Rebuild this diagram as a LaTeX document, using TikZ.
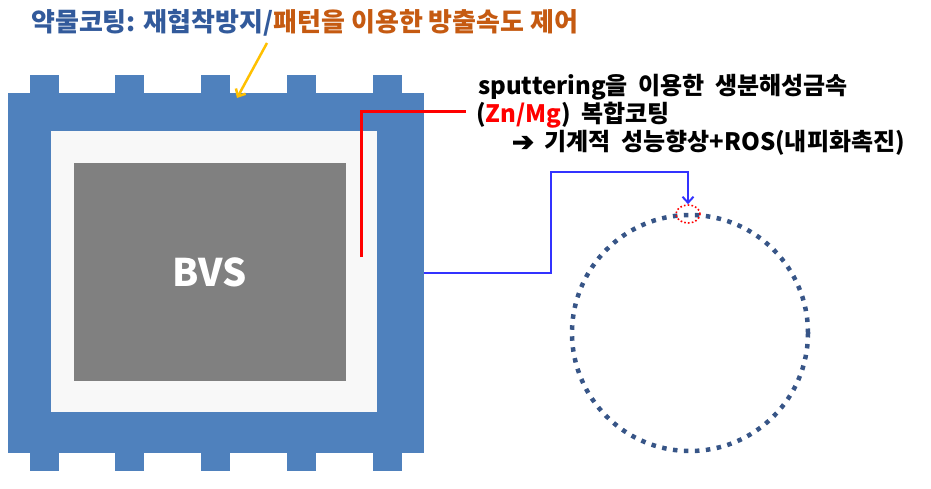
\documentclass[tikz,border=0pt]{standalone}
\usepackage{fontspec}
\setmainfont{Noto Sans CJK KR}
\newfontfamily\symfont{DejaVu Sans}[FakeBold=3.5]
\usetikzlibrary{arrows.meta,shapes.geometric}
\definecolor{stentblue}{RGB}{79,129,189}
\definecolor{lightfill}{RGB}{248,248,248}
\definecolor{bvsgray}{RGB}{128,128,128}
\definecolor{titleblue}{RGB}{50,90,155}
\definecolor{titleorange}{RGB}{197,90,17}
\definecolor{arrowyellow}{RGB}{255,192,0}
\definecolor{linkblue}{RGB}{51,51,255}
\definecolor{dotblue}{RGB}{55,85,135}
\definecolor{zncol}{RGB}{255,0,0}
\newcommand{\widespace}{\spaceskip=10.5pt\relax}
\tikzset{
  txt/.style={inner sep=0pt, anchor=west, font=\bfseries\fontsize{24}{28}\selectfont\widespace},
  barb/.style={-{Straight Barb[length=6pt,width=11pt]}},
}
\begin{document}
\begin{tikzpicture}[x=1pt,y=-1pt]
\path[use as bounding box] (0,0) rectangle (931,489);
% stent body
\node[fill=stentblue, draw=none, minimum width=416pt, minimum height=360pt, inner sep=0pt] (stent) at (216,273) {};
\foreach \x in {30,115,201,287,373}{
  \fill[stentblue] (\x,75) rectangle ++(29,18);
  \fill[stentblue] (\x,453) rectangle ++(29,18);
}
\node[fill=lightfill, draw=none, minimum width=326pt, minimum height=281pt, inner sep=0pt] (coat) at (214,271.5) {};
\node[fill=bvsgray, draw=none, minimum width=272pt, minimum height=218pt, inner sep=0pt,
      text=white, font=\bfseries\fontsize{38}{40}\selectfont] (bvs) at (210,272) {BVS};
% title
\node[inner sep=0pt, anchor=west, font=\bfseries\fontsize{26}{30}\selectfont] (title) at (31,23)
  {\textcolor{titleblue}{약물코팅: 재협착방지/}\textcolor{titleorange}{패턴을 이용한 방출속도 제어}};
\coordinate (ytip) at (237,98);
\coordinate (ystart) at (267,43);
\draw[arrowyellow, line width=2.5pt, barb] (ystart) -- (ytip);
% right texts
\node[txt] (l1) at (478,87) {sputtering을 이용한 생분해성금속};
\node[txt] (l2) at (476,115) {(\textcolor{zncol}{Zn/Mg}) 복합코팅};
\node[txt] (l3) at (512,143) {{\symfont\bfseries\fontsize{26}{28}\selectfont ➔} 기계적 성능향상+ROS(내피화촉진)};
% red connector
\coordinate (rstart) at (361,257);
\draw[zncol, line width=3pt] (rstart) |- (466,112);
% circle
\node[circle, draw=dotblue, line width=4.5pt, dash pattern=on 4.5pt off 6.5pt,
      minimum size=236pt, inner sep=0pt] (ring) at (690,333) {};
\node[ellipse, draw=zncol, line width=1.6pt, dash pattern=on 1.6pt off 2.2pt,
      minimum width=24pt, minimum height=18pt, inner sep=0pt] (spot) at (688,214) {};
% blue connector
\draw[linkblue, line width=2pt, barb] (stent.east |- 0,273) -- (551,273) -- (551,172) -- (688,172) -- (spot.north);
\end{tikzpicture}
\end{document}
